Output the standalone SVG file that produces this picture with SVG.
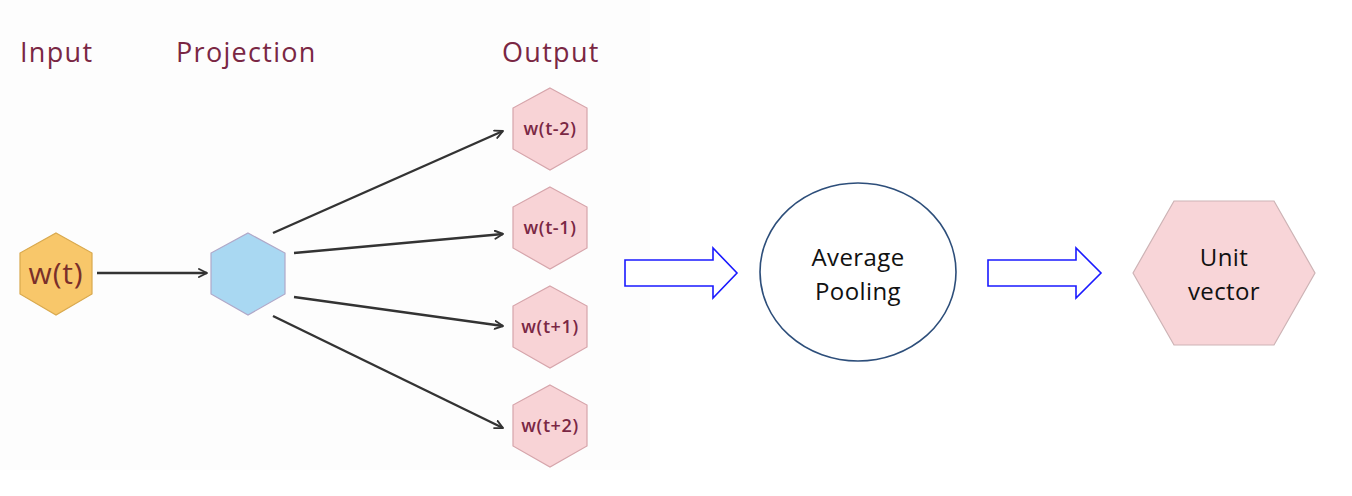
<svg xmlns="http://www.w3.org/2000/svg" width="1352" height="496" viewBox="0 0 1352 496">
<defs>
<style>
.hdr{font-family:"Open Sans","Liberation Sans",sans-serif;font-size:27px;letter-spacing:1.3px;fill:#7a2744}
.out{fill:#f8d3d6;stroke:#d6a5ab;stroke-width:1.2}
.olbl{font-family:"Open Sans","Liberation Sans",sans-serif;font-size:18px;letter-spacing:0.6px;font-weight:600;fill:#7a2744;text-anchor:middle}
.conn{stroke:#333;stroke-width:2.4;fill:none}
.blk{fill:#fff;stroke:#1a1aff;stroke-width:1.6}
.lbl{font-family:"Open Sans","Liberation Sans",sans-serif;font-size:24px;letter-spacing:0.4px;fill:#111;text-anchor:middle}
</style>
<marker id="ah" viewBox="0 0 10 10" refX="9" refY="5" markerWidth="10" markerHeight="10" markerUnits="userSpaceOnUse" orient="auto">
<path d="M1,1 L9,5 L1,9" fill="none" stroke="#333" stroke-width="1.9" stroke-linejoin="round" stroke-linecap="round"/>
</marker>
</defs>
<rect width="1352" height="496" fill="#fff"/>
<rect x="0" y="0" width="650" height="470" fill="#fdfdfd"/>
<text class="hdr" x="20" y="62">Input</text>
<text class="hdr" x="176" y="62">Projection</text>
<text class="hdr" x="502" y="62">Output</text>
<g id="connectors">
<line class="conn" x1="97" y1="273" x2="207" y2="273" marker-end="url(#ah)"/>
<line class="conn" x1="273" y1="233" x2="503" y2="131" marker-end="url(#ah)"/>
<line class="conn" x1="294" y1="253" x2="503" y2="234" marker-end="url(#ah)"/>
<line class="conn" x1="294" y1="297" x2="503" y2="326" marker-end="url(#ah)"/>
<line class="conn" x1="273" y1="316" x2="503" y2="428" marker-end="url(#ah)"/>
<path class="blk" d="M625,260 L713,260 L713,248 L737,273 L713,298 L713,286 L625,286 Z"/>
<path class="blk" d="M988,260 L1076,260 L1076,248 L1101,273 L1076,298 L1076,286 L988,286 Z"/>
</g>
<g id="input">
<polygon points="56,233 92,253 92,294 56,315 20,294 20,253" fill="#f8c76a" stroke="#d9a94e" stroke-width="1.2"/>
<text x="56" y="284" text-anchor="middle" font-family="'Open Sans','Liberation Sans',sans-serif" font-size="30" letter-spacing="0.8" fill="#7a2f2a">w(t)</text>
</g>
<g id="projection">
<polygon points="248,233 285,253 285,294 248,315 211,294 211,253" fill="#a9d8f2" stroke="#b0a8c8" stroke-width="1.2"/>
</g>
<g id="out-tm2">
<polygon class="out" points="550,88 587,108 587,149 550,170 513,149 513,108"/>
<text class="olbl" x="550" y="135">w(t-2)</text>
</g>
<g id="out-tm1">
<polygon class="out" points="550,187 587,207 587,248 550,269 513,248 513,207"/>
<text class="olbl" x="550" y="234">w(t-1)</text>
</g>
<g id="out-tp1">
<polygon class="out" points="550,286 587,306 587,347 550,368 513,347 513,306"/>
<text class="olbl" x="550" y="333">w(t+1)</text>
</g>
<g id="out-tp2">
<polygon class="out" points="550,385 587,405 587,446 550,467 513,446 513,405"/>
<text class="olbl" x="550" y="432">w(t+2)</text>
</g>
<g id="pooling">
<ellipse cx="858" cy="272" rx="98" ry="89" fill="#fff" stroke="#2d4e7a" stroke-width="1.6"/>
<text class="lbl" x="858" y="266">Average</text>
<text class="lbl" x="858" y="300">Pooling</text>
</g>
<g id="unit">
<polygon points="1133,273 1174,201 1274,201 1315,273 1274,345 1174,345" fill="#f8d5d8" stroke="#cdb3b5" stroke-width="1.2"/>
<text class="lbl" x="1224" y="266">Unit</text>
<text class="lbl" x="1224" y="300">vector</text>
</g>
</svg>
